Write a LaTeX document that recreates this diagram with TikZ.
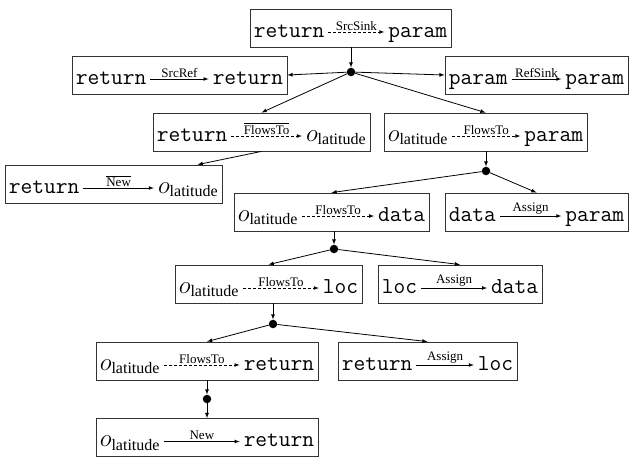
\documentclass[tikz,border=0pt]{standalone}
\usepackage{amsmath}
\usepackage{fontspec}
\setmainfont{Liberation Serif}
\usetikzlibrary{calc,positioning,arrows}
\tikzset{>=latex}
\tikzset{
  fact box/.style={draw=black!80, line width=0.8pt, minimum height=38pt, inner sep=0pt},
  term/.style={font=\fontsize{20}{24}\selectfont, inner sep=0pt},
  rel/.style={->, line width=0.7pt},
  rel dashed/.style={rel, dash pattern=on 3pt off 2pt},
  rel label/.style={above, font=\fontsize{13}{15}\selectfont, inner sep=1.5pt},
  dot/.style={circle, fill=black, inner sep=0pt, minimum size=8.5pt},
  link/.style={->, line width=0.8pt},
}
\newcommand{\tm}[1]{{\fontsize{22.8}{26}\selectfont\ttfamily #1}}
\newcommand{\olat}{{\fontsize{26}{28}\selectfont$o_{\text{\fontsize{16}{18}\selectfont latitude}}$}}
\newcommand{\ovl}[1]{$\overline{\text{#1}}$}

% one fact: name, centre, width, left term, arrow style, relation, right term
\newcommand{\fact}[7]{%
  \node[fact box, minimum width=#3] (#1) at (#2) {};
  \node[term, anchor=base west] (#1-l) at ($(#1.west)+(4pt,-9pt)$) {#4};
  \node[term, anchor=base east] (#1-r) at ($(#1.east)+(-4pt,-9pt)$) {#7};
  \draw[#5] ($(#1-l.base east)+(4pt,5pt)$) -- node[rel label] (#1-t) {#6}
    ($(#1-r.base west)+(-4pt,5pt)$);
}

\begin{document}
\begin{tikzpicture}[x=1pt,y=-1pt]
  \useasboundingbox (0,0) rectangle (632,459);

  % facts, top to bottom
  \fact{f1}{350.5,28}{201pt}{\tm{return}}{rel dashed}{SrcSink}{\tm{param}}
  \fact{f2}{179.5,75}{215pt}{\tm{return}}{rel}{SrcRef}{\tm{return}}
  \fact{f3}{536.5,75}{183pt}{\tm{param}}{rel}{RefSink}{\tm{param}}
  \fact{f4}{261.5,132}{217pt}{\tm{return}}{rel dashed}{\ovl{FlowsTo}}{\olat}
  \fact{f5}{485.5,132}{203pt}{\olat}{rel dashed}{FlowsTo}{\tm{param}}
  \fact{f6}{113.5,184}{217pt}{\tm{return}}{rel}{\ovl{New}}{\olat}
  \fact{f7}{331.5,212}{195pt}{\olat}{rel dashed}{FlowsTo}{\tm{data}}
  \fact{f8}{536.5,212}{183pt}{\tm{data}}{rel}{Assign}{\tm{param}}
  \fact{f9}{268.5,284}{187pt}{\olat}{rel dashed}{FlowsTo}{\tm{loc}}
  \fact{f10}{460,284}{164pt}{\tm{loc}}{rel}{Assign}{\tm{data}}
  \fact{f11}{207,361}{222pt}{\olat}{rel dashed}{FlowsTo}{\tm{return}}
  \fact{f12}{427.5,361}{179pt}{\tm{return}}{rel}{Assign}{\tm{loc}}
  \fact{f13}{207,437.5}{222pt}{\olat}{rel}{New}{\tm{return}}

  % join points
  \node[dot] (d1) at (351,72) {};
  \node[dot] (d2) at (486,171) {};
  \node[dot] (d3) at (334,249) {};
  \node[dot] (d4) at (273,324) {};
  \node[dot] (d5) at (207,399) {};

  \draw[link] (d1 |- f1.south) -- (d1);
  \draw[link] (d1) -- (f2.east);
  \draw[link] (d1) -- (f3.west);
  \draw[link] (d1) -- (f4.north);
  \draw[link] (d1) -- (f5.north);
  \draw[link] (f4.south) -- (f6.13);

  \draw[link] (d2 |- f5.south) -- (d2);
  \draw[link] (d2) -- (f7.north);
  \draw[link] (d2) -- (f8.north);

  \draw[link] (d3 |- f7.south) -- (d3);
  \draw[link] (d3) -- (f9.north);
  \draw[link] (d3) -- (f10.north);

  \draw[link] (d4 |- f9.south) -- (d4);
  \draw[link] (d4) -- (f11.north);
  \draw[link] (d4) -- (f12.north);

  \draw[link] (d5 |- f11.south) -- (d5);
  \draw[link] (d5) -- (d5 |- f13.north);
\end{tikzpicture}
\end{document}
